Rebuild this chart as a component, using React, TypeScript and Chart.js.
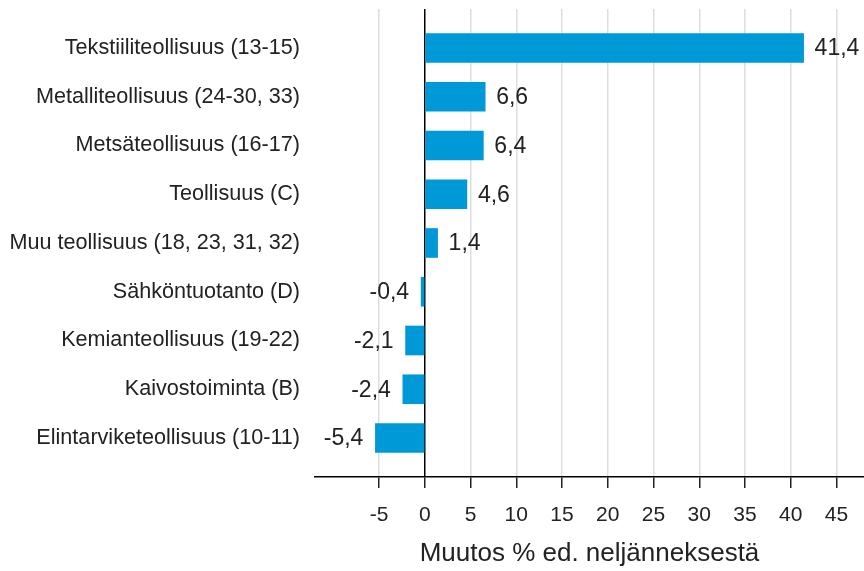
import { useEffect, useRef } from 'react';
import { Chart, registerables } from 'chart.js';

Chart.register(...registerables);

const categories: string[] = [
  'Tekstiiliteollisuus (13-15)',
  'Metalliteollisuus (24-30, 33)',
  'Metsäteollisuus (16-17)',
  'Teollisuus (C)',
  'Muu teollisuus (18, 23, 31, 32)',
  'Sähköntuotanto (D)',
  'Kemianteollisuus (19-22)',
  'Kaivostoiminta (B)',
  'Elintarviketeollisuus (10-11)',
];
const values: number[] = [41.4, 6.6, 6.4, 4.6, 1.4, -0.4, -2.1, -2.4, -5.4];
const xTickValues: number[] = [-5, 0, 5, 10, 15, 20, 25, 30, 35, 40, 45];
const xTitle = 'Muutos % ed. neljänneksestä';

const FONT = '"Liberation Sans", Arial, sans-serif';
const TEXT = '#222222';
const BAR = '#0099d8';

const fmt = (v: number) => v.toFixed(1).replace('.', ',');

const valueLabels = {
  id: 'valueLabels',
  afterDatasetsDraw(chart: any) {
    const ctx = chart.ctx;
    const meta = chart.getDatasetMeta(0);
    ctx.save();
    ctx.font = `23px ${FONT}`;
    ctx.fillStyle = TEXT;
    ctx.textBaseline = 'middle';
    meta.data.forEach((bar: any, i: number) => {
      const v = values[i];
      if (v >= 0) {
        ctx.textAlign = 'left';
        ctx.fillText(fmt(v), bar.x + 11, bar.y + 1);
      } else {
        ctx.textAlign = 'right';
        ctx.fillText(fmt(v), bar.x - 12, bar.y + 1);
      }
    });
    ctx.restore();
  },
};

export default function App() {
  const ref = useRef<HTMLCanvasElement | null>(null);
  useEffect(() => {
    if (!ref.current) return;
    const chart = new Chart(ref.current, {
      type: 'bar',
      data: {
        datasets: [
          {
            data: values.map((v, i) => ({ x: v, y: i })) as any,
            backgroundColor: BAR,
            borderWidth: 0,
            barThickness: 29,
          },
        ],
      },
      options: {
        indexAxis: 'y',
        animation: false,
        responsive: false,
        devicePixelRatio: 1,
        layout: { padding: { top: 9, right: 0, bottom: 0, left: 0 } },
        plugins: {
          legend: { display: false },
          tooltip: { enabled: false },
        },
        scales: {
          x: {
            type: 'linear',
            min: -12,
            max: 48,
            afterBuildTicks: (scale: any) => {
              scale.ticks = xTickValues.map((v) => ({ value: v }));
            },
            afterFit: (scale: any) => {
              scale.height = 94;
              scale.paddingLeft = 0;
              scale.paddingRight = 0;
            },
            grid: {
              color: (c: any) => (c.tick && c.tick.value === 0 ? '#000000' : '#dddddd'),
              lineWidth: 1.5,
              tickColor: '#222222',
              tickWidth: 1.5,
              tickLength: 11,
              drawTicks: true,
            },
            border: { display: true, color: '#000000', width: 1.5 },
            ticks: {
              padding: 15,
              color: TEXT,
              font: { family: FONT, size: 21 },
              callback: (v: any) => String(v),
            },
            title: {
              display: true,
              text: xTitle,
              color: TEXT,
              font: { family: FONT, size: 26 },
              padding: { top: 6, bottom: 2 },
            },
          },
          y: {
            type: 'linear',
            reverse: true,
            offset: false,
            min: -0.8,
            max: 8.8,
            afterBuildTicks: (scale: any) => {
              scale.ticks = categories.map((_, i) => ({ value: i }));
            },
            afterFit: (scale: any) => {
              scale.width = 315;
              scale.paddingTop = 0;
              scale.paddingBottom = 0;
            },
            grid: { display: false, drawTicks: false, offset: false },
            border: { display: false },
            ticks: {
              padding: 15,
              color: TEXT,
              font: { family: FONT, size: 21.6 },
              autoSkip: false,
              callback: (v: any) => categories[v as number] ?? '',
            },
          },
        },
      },
      plugins: [valueLabels],
    });
    return () => chart.destroy();
  }, []);
  return (
    <canvas
      ref={ref}
      width={864}
      height={571}
      style={{ position: 'absolute', left: 0, top: 0, display: 'block', width: 864, height: 571 }}
    />
  );
}
